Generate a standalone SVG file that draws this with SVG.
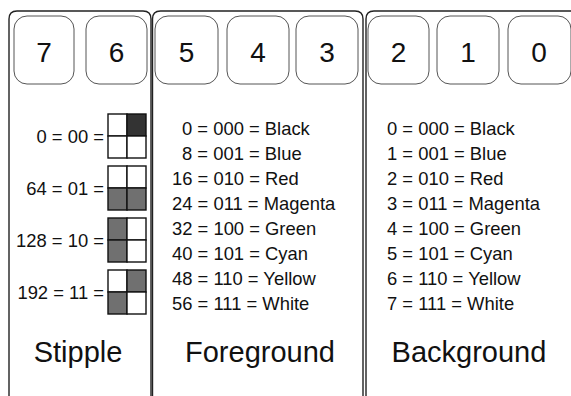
<svg xmlns="http://www.w3.org/2000/svg" width="571" height="396" viewBox="0 0 571 396">
<style>
text{font-family:"Liberation Sans",Arial,sans-serif;fill:#111}
.panel{fill:none;stroke:#222;stroke-width:1.4}
.bit{fill:#fff;stroke:#555;stroke-width:1}
.digit{font-size:28px;text-anchor:middle}
.title{font-size:29px;text-anchor:middle}
.row{font-size:18.4px}
.lab{font-size:18.4px;text-anchor:end}
.cell{stroke:#111;stroke-width:1.4}
.w{fill:#fff}
.g{fill:#707070}
.d{fill:#333}
</style>
<rect width="571" height="396" fill="#fff"/>
<g id="panels">
<path class="panel" d="M9,396 V19 Q9,11 17,11 H143 Q151,11 151,19 V396"/>
<path class="panel" d="M152.5,396 V19 Q152.5,11 160.5,11 H355 Q363,11 363,19 V396"/>
<path class="panel" d="M366,396 V19 Q366,11 374,11 H575"/>
</g>
<g id="bit7"><rect class="bit" x="14" y="16" width="60" height="68" rx="13"/><text class="digit" x="44" y="62">7</text></g>
<g id="bit6"><rect class="bit" x="86" y="16" width="61" height="68" rx="13"/><text class="digit" x="116.5" y="62">6</text></g>
<g id="bit5"><rect class="bit" x="155" y="16" width="63" height="68" rx="13"/><text class="digit" x="186.5" y="62">5</text></g>
<g id="bit4"><rect class="bit" x="227" y="16" width="62" height="68" rx="13"/><text class="digit" x="258" y="62">4</text></g>
<g id="bit3"><rect class="bit" x="296" y="16" width="62" height="68" rx="13"/><text class="digit" x="327" y="62">3</text></g>
<g id="bit2"><rect class="bit" x="368" y="16" width="61" height="68" rx="13"/><text class="digit" x="398.5" y="62">2</text></g>
<g id="bit1"><rect class="bit" x="437" y="16" width="62" height="68" rx="13"/><text class="digit" x="468" y="62">1</text></g>
<g id="bit0"><rect class="bit" x="508" y="16" width="63" height="68" rx="13"/><text class="digit" x="539" y="62">0</text></g>
<g id="stipple">
<text class="lab" x="104" y="142.5">0 = 00 =</text>
<g transform="translate(108,114)"><rect class="cell w" width="19" height="22"/><rect class="cell d" x="19" width="19" height="22"/><rect class="cell w" y="22" width="19" height="22"/><rect class="cell w" x="19" y="22" width="19" height="22"/></g>
<text class="lab" x="104" y="194.5">64 = 01 =</text>
<g transform="translate(108,166)"><rect class="cell w" width="19" height="22"/><rect class="cell w" x="19" width="19" height="22"/><rect class="cell g" y="22" width="19" height="22"/><rect class="cell g" x="19" y="22" width="19" height="22"/></g>
<text class="lab" x="104" y="246.5">128 = 10 =</text>
<g transform="translate(108,218)"><rect class="cell g" width="19" height="22"/><rect class="cell w" x="19" width="19" height="22"/><rect class="cell g" y="22" width="19" height="22"/><rect class="cell w" x="19" y="22" width="19" height="22"/></g>
<text class="lab" x="104" y="298.5">192 = 11 =</text>
<g transform="translate(108,270)"><rect class="cell w" width="19" height="22"/><rect class="cell g" x="19" width="19" height="22"/><rect class="cell g" y="22" width="19" height="22"/><rect class="cell w" x="19" y="22" width="19" height="22"/></g>
<text class="title" x="78" y="362">Stipple</text>
</g>
<g id="foreground">
<text class="row" x="182" y="134.5">0 = 000 = Black</text>
<text class="row" x="182" y="159.5">8 = 001 = Blue</text>
<text class="row" x="172" y="184.5">16 = 010 = Red</text>
<text class="row" x="172" y="209.5">24 = 011 = Magenta</text>
<text class="row" x="172" y="234.5">32 = 100 = Green</text>
<text class="row" x="172" y="259.5">40 = 101 = Cyan</text>
<text class="row" x="172" y="284.5">48 = 110 = Yellow</text>
<text class="row" x="172" y="309.5">56 = 111 = White</text>
<text class="title" x="260" y="362">Foreground</text>
</g>
<g id="background">
<text class="row" x="387" y="134.5">0 = 000 = Black</text>
<text class="row" x="387" y="159.5">1 = 001 = Blue</text>
<text class="row" x="387" y="184.5">2 = 010 = Red</text>
<text class="row" x="387" y="209.5">3 = 011 = Magenta</text>
<text class="row" x="387" y="234.5">4 = 100 = Green</text>
<text class="row" x="387" y="259.5">5 = 101 = Cyan</text>
<text class="row" x="387" y="284.5">6 = 110 = Yellow</text>
<text class="row" x="387" y="309.5">7 = 111 = White</text>
<text class="title" x="469" y="362">Background</text>
</g>
<g id="connectors"/>
</svg>
